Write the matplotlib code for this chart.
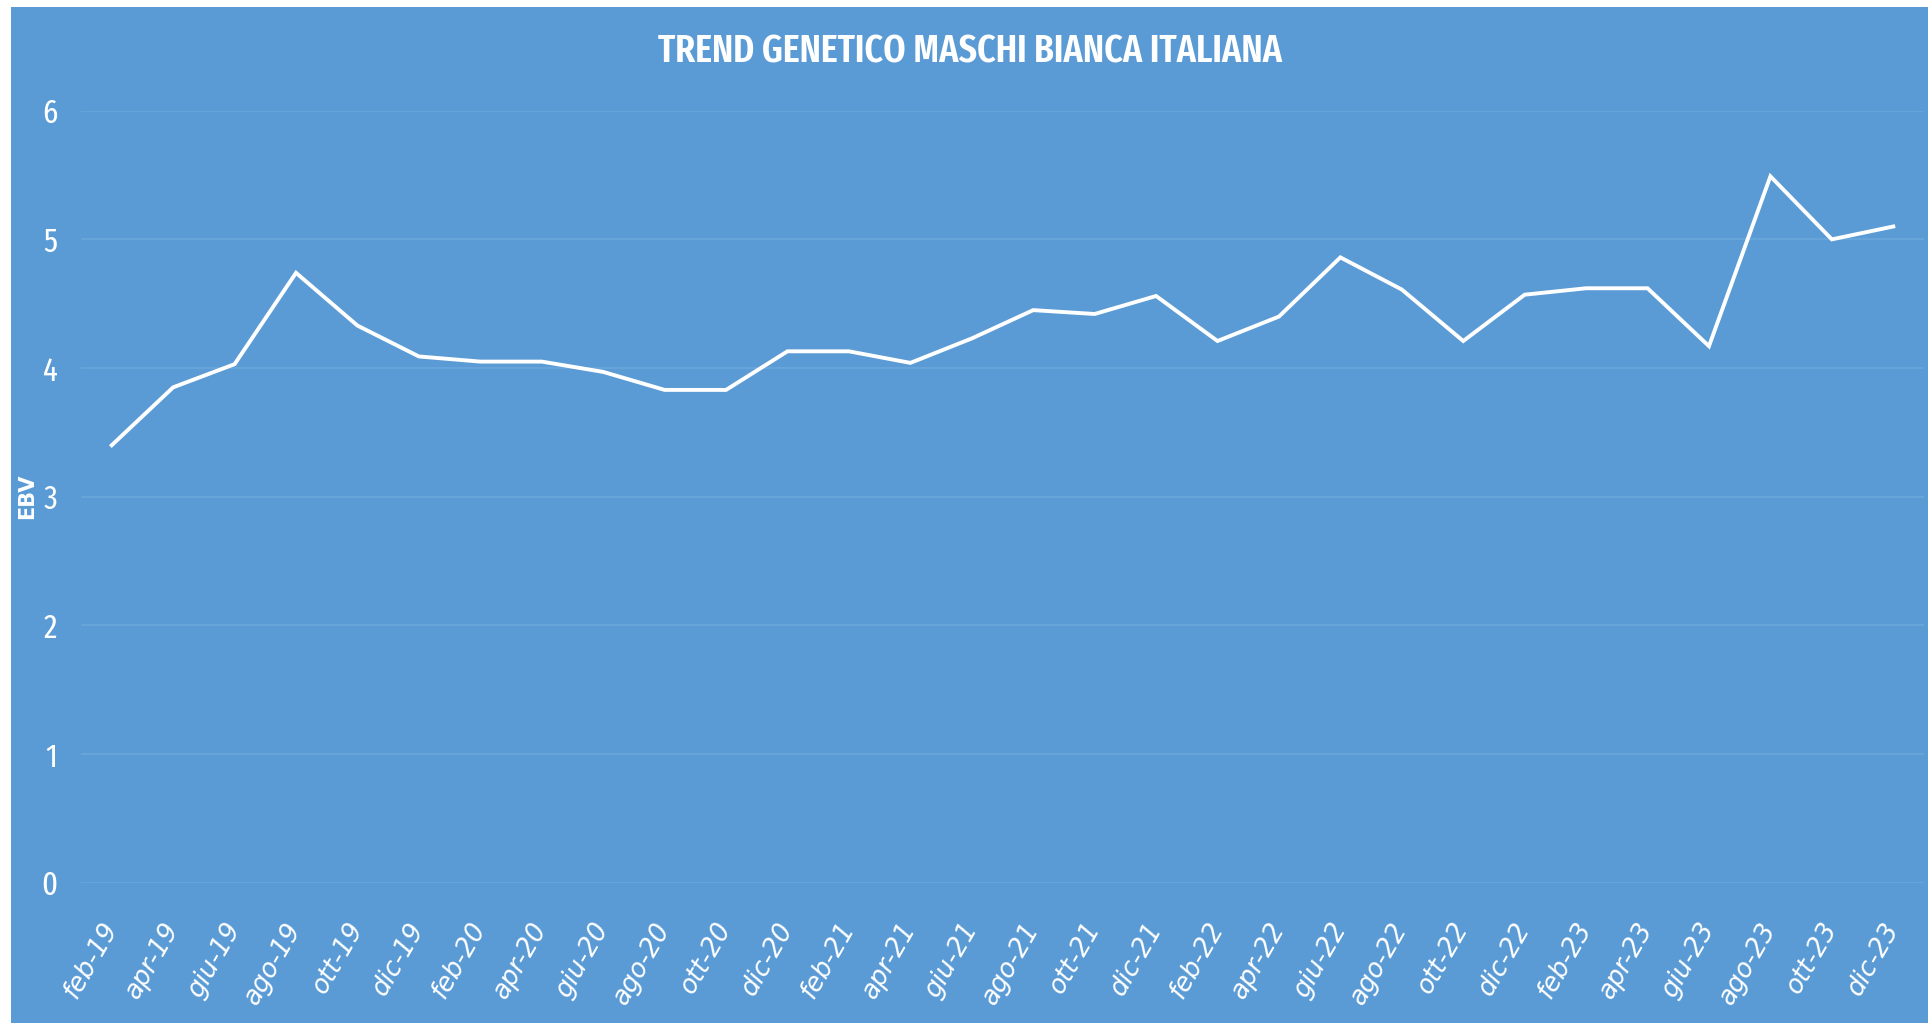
import matplotlib
matplotlib.use("Agg")
import matplotlib.pyplot as plt
from matplotlib.patches import Rectangle

# dati
mesi = ['feb-19', 'apr-19', 'giu-19', 'ago-19', 'ott-19', 'dic-19',
        'feb-20', 'apr-20', 'giu-20', 'ago-20', 'ott-20', 'dic-20',
        'feb-21', 'apr-21', 'giu-21', 'ago-21', 'ott-21', 'dic-21',
        'feb-22', 'apr-22', 'giu-22', 'ago-22', 'ott-22', 'dic-22',
        'feb-23', 'apr-23', 'giu-23', 'ago-23', 'ott-23', 'dic-23']
ebv = [3.40, 3.85, 4.03, 4.74, 4.33, 4.09,
       4.05, 4.05, 3.97, 3.83, 3.83, 4.13,
       4.13, 4.04, 4.23, 4.45, 4.42, 4.56,
       4.21, 4.40, 4.86, 4.61, 4.21, 4.57,
       4.62, 4.62, 4.17, 5.49, 5.00, 5.10]
y_ticks = [0, 1, 2, 3, 4, 5, 6]
titolo = 'TREND GENETICO MASCHI BIANCA ITALIANA'
etichetta_y = 'EBV'

BLU = '#5b9bd5'
GRIGLIA = '#6aa6db'
STRETTO = ['Fira Sans Extra Condensed', 'DejaVu Sans']
W, H = 1928, 1023


def grafico():
    fig = plt.figure(figsize=(W / 100, H / 100), dpi=100)
    fig.patch.set_facecolor('white')

    # sfondo blu, resta una striscia bianca a sinistra e in alto
    sfondo = Rectangle((11 / W, 0), 1, 1 - 7 / H, transform=fig.transFigure,
                       facecolor=BLU, edgecolor='none', zorder=-10)
    fig.add_artist(sfondo)

    ax = fig.add_axes([81 / W, 1 - 882.7 / H, (1924 - 81) / W, (882.7 - 110.7) / H])
    ax.set_facecolor('none')

    x = list(range(len(mesi)))
    ax.plot(x, ebv, color='white', lw=2.8, solid_joinstyle='miter', zorder=3)

    ax.set_xlim(-0.5, len(mesi) - 0.5)
    ax.set_ylim(0, 6)
    ax.set_yticks(y_ticks)
    ax.set_yticklabels([str(v) for v in y_ticks], family=STRETTO,
                       fontsize=24, fontweight='normal', color='white')
    ax.set_xticks(x)
    ax.set_xticklabels(mesi, family='DejaVu Sans', style='italic',
                       fontsize=18.5, color='white', rotation=60,
                       ha='right', va='center', rotation_mode='anchor')

    ax.tick_params(axis='both', length=0)
    ax.tick_params(axis='y', pad=17)
    ax.tick_params(axis='x', pad=30)
    for sp in ax.spines.values():
        sp.set_visible(False)

    ax.yaxis.grid(True, color=GRIGLIA, lw=1.2)
    ax.xaxis.grid(False)
    ax.set_axisbelow(True)

    ax.set_ylabel(etichetta_y, fontweight='bold', color='white', fontsize=15,
                  family='DejaVu Sans')
    ax.yaxis.set_label_coords((37 - 81) / (1924 - 81), 0.5)

    fig.text(970 / W, 1 - 52 / H, titolo, ha='center', va='center',
             color='white', fontsize=28, fontweight='semibold', family=STRETTO)

    fig.savefig('out.png', dpi=100, facecolor=fig.get_facecolor())
    plt.close(fig)


if __name__ == "__main__":
    grafico()
